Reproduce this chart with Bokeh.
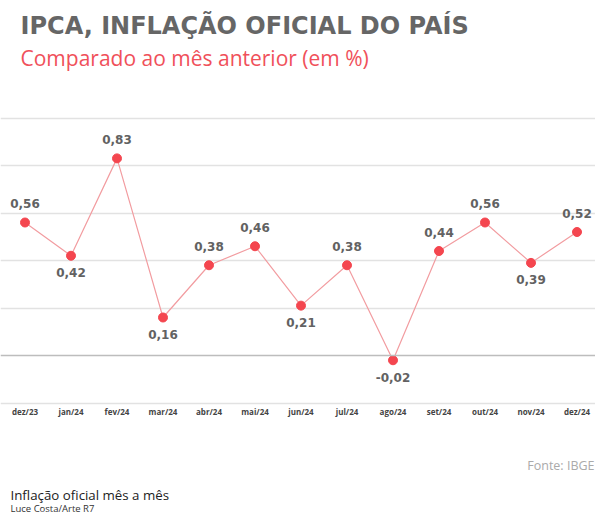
from bokeh.plotting import figure
from bokeh.models import Range1d, FixedTicker, Label, LabelSet, Span, ColumnDataSource
from bokeh.core.properties import value
from bokeh.embed import file_html
from bokeh.resources import INLINE

# ---- data ----
months = ["dez/23", "jan/24", "fev/24", "mar/24", "abr/24", "mai/24", "jun/24",
          "jul/24", "ago/24", "set/24", "out/24", "nov/24", "dez/24"]
ipca = [0.56, 0.42, 0.83, 0.16, 0.38, 0.46, 0.21, 0.38, -0.02, 0.44, 0.56, 0.39, 0.52]
label_side = ["above", "below", "above", "below", "above", "above", "below",
              "above", "below", "above", "above", "below", "above"]
grid_values = [-0.2, 0.2, 0.4, 0.6, 0.8, 1.0]

title = "IPCA, INFLAÇÃO OFICIAL DO PAÍS"
subtitle = "Comparado ao mês anterior (em %)"
source_txt = "Fonte: IBGE"
caption = "Inflação oficial mês a mês"
credit = "Luce Costa/Arte R7"

# ---- layout ----
W, H = 595, 515
PX_PER_UNIT = 237.5
ZERO_FY = 355
STEP = 46.0
X0 = 24.5
y_top = ZERO_FY / PX_PER_UNIT
y_bottom = -(H - ZERO_FY) / PX_PER_UNIT
x_start = -X0 / STEP
x_end = (W - X0) / STEP

p = figure(width=W, height=H, output_backend="svg", toolbar_location=None,
           x_range=Range1d(x_start, x_end), y_range=Range1d(y_bottom, y_top),
           min_border=0, y_axis_location=None, x_axis_location="below",
           outline_line_color=None, background_fill_color="white",
           border_fill_color="white")

xs = list(range(len(months)))

# axis
ax = p.xaxis[0]
ax.ticker = FixedTicker(ticks=xs)
ax.major_label_overrides = {i: m for i, m in enumerate(months)}
ax.fixed_location = -0.2 + 6 / PX_PER_UNIT
ax.axis_line_color = None
ax.major_tick_line_color = None
ax.minor_tick_line_color = None
ax.major_label_text_font = "Open Sans"
ax.major_label_text_font_style = "bold"
ax.major_label_text_font_size = "8px"
ax.major_label_text_color = "#444444"
ax.major_label_standoff = 3

# grid
p.xgrid.visible = False
p.ygrid.ticker = FixedTicker(ticks=grid_values)
p.ygrid.grid_line_color = "#e2e2e2"
p.ygrid.grid_line_width = 1.5
p.add_layout(Span(location=0, dimension="width", line_color="#bdbdbd", line_width=1.5))

# series
p.line(xs, ipca, line_color="#f29ca0", line_width=1.2)
p.scatter(xs, ipca, size=9, fill_color="#f4464f", line_color="#f4464f")

labels = [f"{v:.2f}".replace(".", ",") for v in ipca]
offsets = [19 if s == "above" else -17 for s in label_side]
src = ColumnDataSource(dict(x=xs, y=ipca, t=labels, off=offsets))
p.add_layout(LabelSet(x="x", y="y", text="t", y_offset="off", source=src,
                      text_align="center", text_baseline="middle",
                      text_font=value("DejaVu Sans"), text_font_style="bold",
                      text_font_size="12px", text_color="#626262"))

# texts
p.add_layout(Label(x=20, y=H - 25, x_units="screen", y_units="screen", text=title,
                   text_font="DejaVu Sans", text_font_style="bold", text_font_size="24px",
                   text_color="#666666", text_baseline="middle"))
p.add_layout(Label(x=20, y=H - 57, x_units="screen", y_units="screen", text=subtitle,
                   text_font="Open Sans", text_font_size="21px",
                   text_color="#f0505a", text_baseline="middle"))
p.add_layout(Label(x=W - 1, y=H - 465, x_units="screen", y_units="screen", text=source_txt,
                   text_font="Open Sans", text_font_size="12.5px",
                   text_color="#aaaaaa", text_baseline="middle", text_align="right"))
p.add_layout(Label(x=10, y=H - 494, x_units="screen", y_units="screen", text=caption,
                   text_font="Open Sans", text_font_size="13.3px",
                   text_color="#222222", text_baseline="middle"))
p.add_layout(Label(x=10, y=7, x_units="screen", y_units="screen", text=credit,
                   text_font="Open Sans", text_font_size="9.5px",
                   text_color="#333333", text_baseline="middle"))

open("out.html", "w").write(file_html(p, INLINE))
